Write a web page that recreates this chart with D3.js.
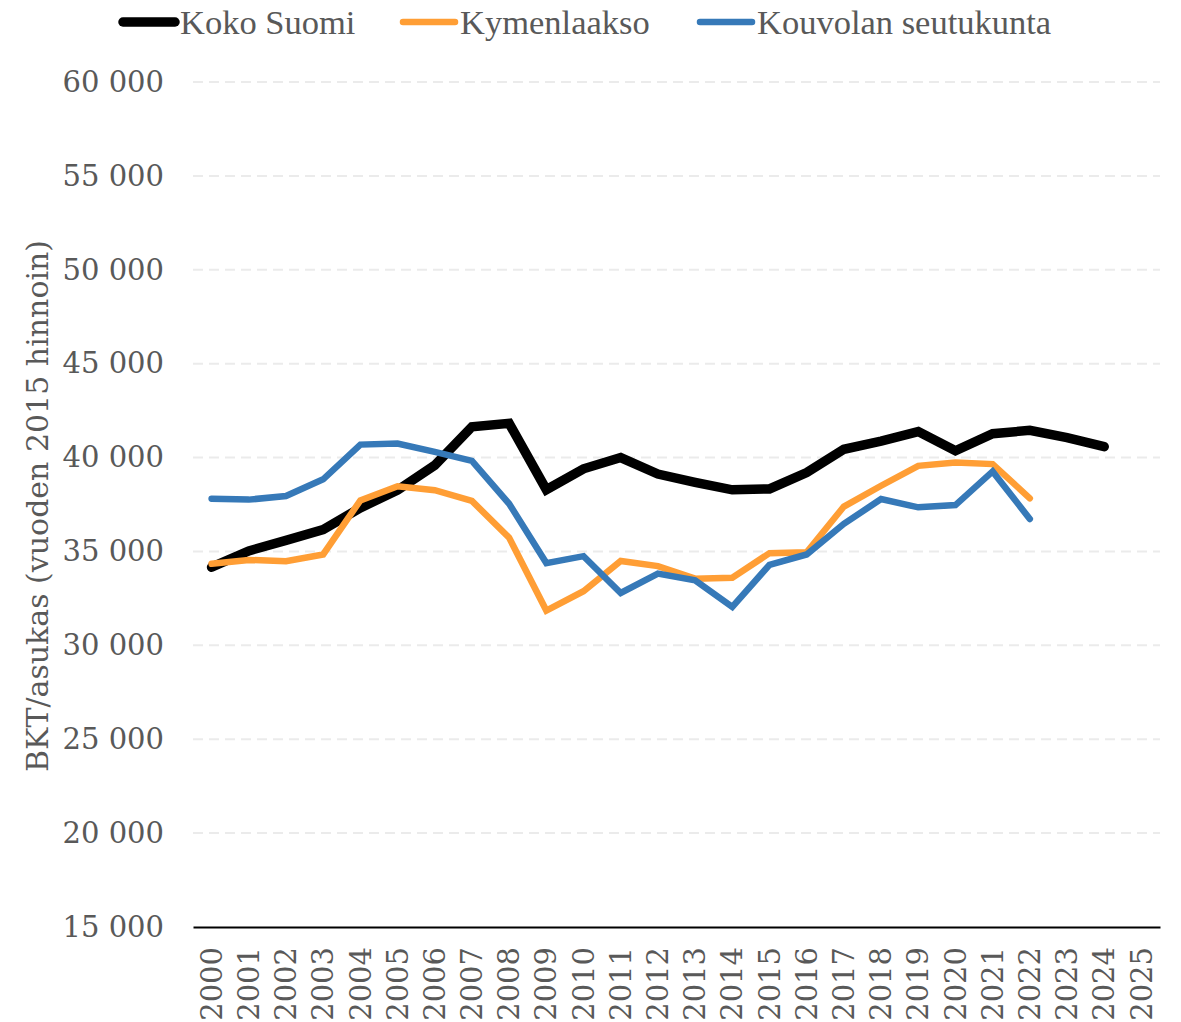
<!DOCTYPE html>
<html>
<head>
<meta charset="utf-8">
<script src="https://cdn.jsdelivr.net/npm/d3@7"></script>
<style>
  body { margin: 0; background: #fff; }
  svg { display: block; }
</style>
</head>
<body>
<div class="module"></div>
<script>
// data
const years = d3.range(2000, 2026);
const kokoSuomi = [34160, 35030, 35590, 36160, 37320, 38260, 39590, 41640, 41820, 38290,
  39400, 40000, 39120, 38680, 38280, 38330, 39200, 40440, 40880, 41380,
  40360, 41270, 41450, 41060, 40580];
const kymenlaakso = [34340, 34550, 34480, 34840, 37720, 38470, 38260, 37690, 35730, 31850,
  32880, 34490, 34220, 33550, 33600, 34910, 34960, 37390, 38500, 39560,
  39740, 39650, 37830];
const kouvola = [37810, 37760, 37950, 38840, 40690, 40750, 40300, 39820, 37540, 34380,
  34750, 32790, 33820, 33460, 32050, 34290, 34840, 36470, 37790, 37350,
  37470, 39260, 36730];
const yTicks = [15000, 20000, 25000, 30000, 35000, 40000, 45000, 50000, 55000, 60000];

const series = [
  { name: 'Koko Suomi', values: kokoSuomi, color: '#000000', width: 9.5 },
  { name: 'Kymenlaakso', values: kymenlaakso, color: '#ff9e35', width: 6.5 },
  { name: 'Kouvolan seutukunta', values: kouvola, color: '#3679b8', width: 6.5 }
];

drawChart(d3.select('.module').node());

function drawChart(rootDOM) {
  const W = 1181;
  const H = 1022;
  const left = 193, right = 1160, top = 82, bottom = 927;
  const textColor = '#595959';
  const serif = 'Georgia, "DejaVu Serif", "Liberation Serif", serif';

  const svg = d3.select(rootDOM)
    .append('svg')
    .attr('width', W)
    .attr('height', H);

  const x = d3.scaleBand().domain(years).range([left, right]).padding(0);
  const y = d3.scaleLinear().domain([15000, 60000]).range([bottom, top]);
  const fmt = v => d3.format(',')(v).replace(',', ' ');

  // gridlines
  svg.append('g')
    .selectAll('line')
    .data(yTicks.filter(t => t > 15000))
    .join('line')
    .attr('x1', left).attr('x2', right)
    .attr('y1', d => y(d)).attr('y2', d => y(d))
    .style('stroke', '#ebebeb')
    .style('stroke-width', 2)
    .style('stroke-dasharray', '10 6');

  // y axis labels
  const yAxis = svg.append('g')
    .attr('transform', `translate(${left}, 0)`)
    .call(d3.axisLeft(y).tickValues(yTicks).tickFormat(fmt).tickSize(0).tickPadding(29));
  yAxis.select('.domain').remove();
  yAxis.selectAll('text')
    .style('font-family', serif)
    .style('font-size', '29px')
    .style('fill', textColor);

  // x axis
  const xAxis = svg.append('g')
    .attr('transform', `translate(0, ${bottom})`)
    .call(d3.axisBottom(x).tickSize(0).tickPadding(0));
  xAxis.select('.domain')
    .style('stroke', '#000')
    .style('stroke-width', 2);
  xAxis.selectAll('text')
    .attr('transform', 'rotate(-90)')
    .attr('x', -20)
    .attr('y', 0)
    .attr('dy', '0.35em')
    .style('text-anchor', 'end')
    .style('font-family', serif)
    .style('font-size', '29px')
    .style('fill', textColor);

  // axis title
  svg.append('text')
    .attr('transform', `translate(48, 506) rotate(-90)`)
    .attr('text-anchor', 'middle')
    .style('font-family', serif)
    .style('font-size', '30px')
    .style('fill', textColor)
    .text('BKT/asukas (vuoden 2015 hinnoin)');

  // lines
  const line = d3.line()
    .x((d, i) => x(years[i]) + x.bandwidth() / 2)
    .y(d => y(d));

  svg.append('g')
    .selectAll('path')
    .data(series)
    .join('path')
    .attr('d', d => line(d.values))
    .style('fill', 'none')
    .style('stroke', d => d.color)
    .style('stroke-width', d => d.width)
    .style('stroke-linecap', 'round')
    .style('stroke-linejoin', 'miter');

  // legend
  const legendX = [120, 400, 697];
  const legend = svg.append('g')
    .selectAll('g')
    .data(series)
    .join('g')
    .attr('transform', (d, i) => `translate(${legendX[i]}, 22)`);
  legend.append('line')
    .attr('x1', 3).attr('x2', 55)
    .attr('y1', 0).attr('y2', 0)
    .style('stroke', d => d.color)
    .style('stroke-width', d => d.width)
    .style('stroke-linecap', 'round');
  legend.append('text')
    .attr('x', 60)
    .attr('y', 12)
    .style('font-family', '"Liberation Serif", serif')
    .style('font-size', '34.5px')
    .style('fill', textColor)
    .text(d => d.name);
}
</script>
</body>
</html>
